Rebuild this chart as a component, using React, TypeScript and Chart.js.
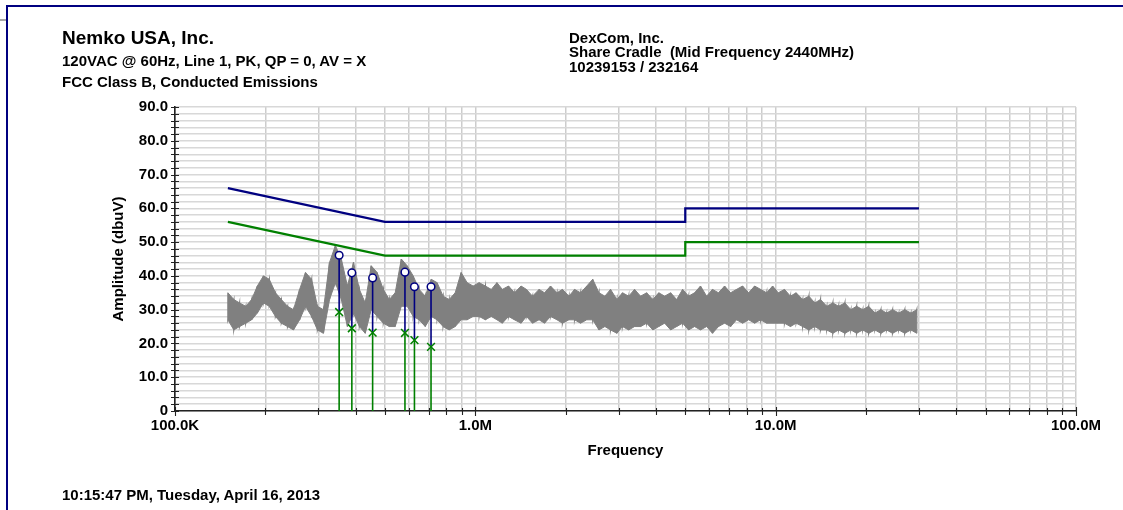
import React, { useEffect, useRef } from "react";
import { Chart, registerables } from "chart.js";

Chart.register(...registerables);

// ---------- data ----------
const headerLeftTitle = "Nemko USA, Inc.";
const headerLeftLines = ["120VAC @ 60Hz, Line 1, PK, QP = 0, AV = X", "FCC Class B, Conducted Emissions"];
const headerRightLines = ["DexCom, Inc.", "Share Cradle  (Mid Frequency 2440MHz)", "10239153 / 232164"];
const footerText = "10:15:47 PM, Tuesday, April 16, 2013";
const yAxisTitle = "Amplitude (dbuV)";
const xAxisTitle = "Frequency";

// x axis (MHz)
const xTickValues = [
  0.1, 0.2, 0.3, 0.4, 0.5, 0.6, 0.7, 0.8, 0.9,
  1, 2, 3, 4, 5, 6, 7, 8, 9,
  10, 20, 30, 40, 50, 60, 70, 80, 90,
  100,
];
const xDecadeValues = [0.1, 1, 10, 100];
const xDecadeLabels = ["100.0K", "1.0M", "10.0M", "100.0M"];

// limit lines
const qpLimitFreq = [0.15, 0.5, 5, 5, 30];
const qpLimitValue = [66, 56, 56, 60, 60];
const avLimitFreq = [0.15, 0.5, 5, 5, 30];
const avLimitValue = [56, 46, 46, 50, 50];

// measured markers
const markerFreq = [0.352, 0.388, 0.455, 0.583, 0.627, 0.712];
const qpValues = [46.1, 40.9, 39.4, 41.1, 36.8, 36.8];
const avValues = [29.3, 24.5, 23.2, 23.1, 21.0, 19.0];

// peak trace (upper / lower swing at each sweep frequency, MHz)
const traceFreqMHz = [
  0.150, 0.157, 0.164, 0.172, 0.180, 0.188, 0.197, 0.206, 0.216, 0.226,
  0.237, 0.248, 0.260, 0.272, 0.285, 0.298, 0.312, 0.327, 0.342, 0.358,
  0.375, 0.393, 0.411, 0.430, 0.450, 0.471, 0.494, 0.517, 0.541, 0.567,
  0.593, 0.621, 0.650, 0.681, 0.713, 0.746, 0.781, 0.818, 0.857, 0.897,
  0.939, 0.983,
  1.03, 1.08, 1.13, 1.18, 1.23, 1.29, 1.35, 1.42, 1.48, 1.55,
  1.63, 1.70, 1.78, 1.87, 1.95, 2.05, 2.14, 2.24, 2.35, 2.46,
  2.58, 2.70, 2.82, 2.96, 3.09, 3.24, 3.39, 3.55, 3.72, 3.90,
  4.08, 4.27, 4.47, 4.68, 4.90, 5.13, 5.37, 5.62, 5.89, 6.16,
  6.45, 6.76, 7.08, 7.41, 7.76, 8.13, 8.51, 8.91, 9.33, 9.77,
  10.2, 10.7, 11.2, 11.7, 12.3, 12.9, 13.5, 14.1, 14.8, 15.5,
  16.2, 17.0, 17.8, 18.6, 19.5, 20.4, 21.4, 22.4, 23.4, 24.5,
  25.7, 26.9, 28.2, 29.5,
];
const traceHigh = [
  35, 33, 32, 31, 33, 37, 40, 39, 35, 33,
  31, 30, 36, 41, 39, 31, 30, 44, 49, 45,
  37, 44, 36, 32, 43, 41, 36, 33, 35, 45,
  43, 40, 36, 34, 39, 38, 34, 33, 35, 41,
  38, 37,
  38, 37, 36, 38, 36, 37, 35, 37, 36, 34,
  36, 35, 37, 35, 36, 34, 36, 35, 37, 39,
  35, 34, 36, 33, 35, 34, 36, 34, 35, 33,
  35, 34, 35, 33, 36, 34, 35, 37, 34, 36,
  35, 37, 35, 36, 37, 35, 37, 36, 35, 37,
  35, 36, 34, 35, 33, 34, 32, 33, 31, 32,
  31, 32, 30, 31, 30, 31, 29, 30, 29, 30,
  29, 30, 29, 30,
];
const traceLow = [
  27, 24, 25, 26, 27, 29, 32, 31, 28, 26,
  25, 24, 27, 31, 28, 24, 23, 33, 38, 33,
  25, 29, 25, 23, 30, 28, 26, 25, 25, 31,
  31, 28, 27, 25, 28, 27, 25, 24, 25, 27,
  27, 28,
  28, 27, 28, 27, 26, 28, 27, 26, 28, 26,
  27, 26, 28, 27, 26, 27, 27, 26, 27, 27,
  24, 25, 24, 23, 25, 24, 25, 25, 26, 24,
  25, 26, 24, 25, 26, 24, 25, 24, 25, 23,
  25, 26, 25, 27, 26, 27, 26, 27, 26, 26,
  26, 26, 25, 26, 25, 24, 25, 24, 24, 23,
  24, 23, 24, 23, 24, 23, 24, 23, 24, 23,
  24, 23, 24, 23,
];

// ---------- styles ----------
const FONT = "'Liberation Sans', Arial, Helvetica, sans-serif";
const NAVY = "#000080";
const GREEN = "#008000";
const GRAY = "#808080";

const tickMarksPlugin = {
  id: "crossTicks",
  afterDraw(chart: any) {
    const { ctx, chartArea, scales } = chart;
    const xs = scales.x;
    const ys = scales.y;
    ctx.save();
    ctx.strokeStyle = "#222";
    ctx.lineWidth = 1.1;
    ctx.beginPath();
    ys.ticks.forEach((t: any) => {
      const py = Math.round(ys.getPixelForValue(t.value)) + 0.5;
      ctx.moveTo(chartArea.left - 4, py);
      ctx.lineTo(chartArea.left + 4, py);
    });
    xs.ticks.forEach((t: any) => {
      const px = Math.round(xs.getPixelForValue(t.value)) + 0.5;
      const major = xDecadeValues.some((d) => Math.abs(d - t.value) < 1e-9);
      ctx.moveTo(px, chartArea.bottom - (major ? 4 : 3));
      ctx.lineTo(px, chartArea.bottom + (major ? 5 : 4));
    });
    ctx.stroke();
    ctx.restore();
  },
};

export default function App() {
  const canvasRef = useRef<HTMLCanvasElement | null>(null);

  useEffect(() => {
    if (!canvasRef.current) return;

    const highPts = traceFreqMHz.map((f, i) => ({ x: f, y: traceHigh[i] }));
    const lowPts = traceFreqMHz.map((f, i) => ({ x: f, y: traceLow[i] }));
    const zigzag: { x: number; y: number }[] = [];
    traceFreqMHz.forEach((f, i) => {
      zigzag.push({ x: f, y: traceHigh[i] });
      zigzag.push({ x: f, y: traceLow[i] });
    });
    const qpLimit = qpLimitFreq.map((f, i) => ({ x: f, y: qpLimitValue[i] }));
    const avLimit = avLimitFreq.map((f, i) => ({ x: f, y: avLimitValue[i] }));
    const qpPts = markerFreq.map((f, i) => ({ x: f, y: qpValues[i] }));
    const avPts = markerFreq.map((f, i) => ({ x: f, y: avValues[i] }));
    const blueStems: any[] = [];
    const greenStems: any[] = [];
    markerFreq.forEach((f, i) => {
      blueStems.push({ x: f, y: qpValues[i] }, { x: f, y: avValues[i] }, { x: f, y: null });
      greenStems.push({ x: f, y: avValues[i] }, { x: f, y: 0 }, { x: f, y: null });
    });

    const tickFont = { family: FONT, size: 15, weight: "bold" as const, lineHeight: 1.2 };

    const chart = new Chart(canvasRef.current, {
      type: "line",
      data: {
        datasets: [
          {
            label: "Peak trace upper",
            data: highPts,
            borderColor: GRAY,
            borderWidth: 1,
            pointRadius: 0,
            fill: 1,
            backgroundColor: GRAY,
            order: 12,
          },
          {
            label: "Peak trace lower",
            data: lowPts,
            borderColor: GRAY,
            borderWidth: 1,
            pointRadius: 0,
            fill: false,
            order: 11,
          },
          {
            label: "Peak trace",
            data: zigzag,
            borderColor: GRAY,
            borderWidth: 1.3,
            pointRadius: 0,
            fill: false,
            order: 10,
          },
          {
            label: "QP limit",
            data: qpLimit,
            borderColor: NAVY,
            borderWidth: 2.2,
            pointRadius: 0,
            order: 5,
          },
          {
            label: "AV limit",
            data: avLimit,
            borderColor: GREEN,
            borderWidth: 2.2,
            pointRadius: 0,
            order: 5,
          },
          {
            label: "AV stems",
            data: greenStems,
            borderColor: GREEN,
            borderWidth: 1.6,
            pointRadius: 0,
            spanGaps: false,
            order: 4,
          },
          {
            label: "QP stems",
            data: blueStems,
            borderColor: NAVY,
            borderWidth: 1.6,
            pointRadius: 0,
            spanGaps: false,
            order: 3,
          },
          {
            label: "AV",
            data: avPts,
            showLine: false,
            pointStyle: "crossRot",
            pointRadius: 5.5,
            borderColor: GREEN,
            backgroundColor: GREEN,
            pointBorderWidth: 1.5,
            order: 2,
          },
          {
            label: "QP",
            data: qpPts,
            showLine: false,
            pointStyle: "circle",
            pointRadius: 3.8,
            borderColor: NAVY,
            backgroundColor: "#ffffff",
            pointBorderWidth: 1.5,
            order: 1,
          },
        ],
      },
      options: {
        responsive: false,
        animation: false,
        devicePixelRatio: 1,
        events: [],
        layout: { padding: { left: 100, right: 47, top: 107, bottom: 39 } },
        plugins: {
          legend: { display: false },
          tooltip: { enabled: false },
          title: { display: false },
        },
        scales: {
          x: {
            type: "logarithmic",
            min: 0.1,
            max: 100,
            afterBuildTicks: (scale: any) => {
              scale.ticks = xTickValues.map((v) => ({ value: v }));
            },
            afterFit: (scale: any) => {
              scale.height = 60;
            },
            ticks: {
              autoSkip: false,
              maxRotation: 0,
              minRotation: 0,
              padding: 6,
              color: "#000",
              font: tickFont,
              callback: (value: any) => {
                const idx = xDecadeValues.findIndex((d) => Math.abs(d - Number(value)) < 1e-9);
                return idx >= 0 ? xDecadeLabels[idx] : "";
              },
            },
            grid: {
              drawTicks: false,
              color: "#cdcdcd",
              lineWidth: 1.5,
            },
            border: { display: true, color: "#222", width: 1.6 },
            title: {
              display: true,
              text: xAxisTitle,
              color: "#000",
              font: tickFont,
              padding: { top: 0, bottom: 11 },
            },
          },
          y: {
            type: "linear",
            min: 0,
            max: 90,
            afterFit: (scale: any) => {
              scale.width = 75;
            },
            ticks: {
              stepSize: 2,
              autoSkip: false,
              padding: 7,
              color: "#000",
              font: tickFont,
              callback: (value: any) => {
                const v = Number(value);
                if (v % 10 !== 0) return "";
                return v === 0 ? "0" : v.toFixed(1);
              },
            },
            grid: {
              drawTicks: false,
              color: "#d8d8d8",
              lineWidth: 1.5,
            },
            border: { display: true, color: "#222", width: 1.6 },
            title: {
              display: true,
              text: yAxisTitle,
              color: "#000",
              font: tickFont,
              padding: { top: 10, bottom: 0 },
            },
          },
        },
      },
      plugins: [tickMarksPlugin],
    });

    return () => chart.destroy();
  }, []);

  const textBase: React.CSSProperties = {
    position: "absolute",
    fontFamily: FONT,
    fontWeight: "bold",
    color: "#000",
    whiteSpace: "pre",
    margin: 0,
  };

  return (
    <div
      style={{
        position: "fixed",
        left: 0,
        top: 0,
        width: 1123,
        height: 510,
        background: "#fff",
        overflow: "hidden",
      }}
    >
      <canvas
        ref={canvasRef}
        width={1123}
        height={510}
        style={{ position: "absolute", left: 0, top: 0, width: 1123, height: 510 }}
      />
      <div
        style={{
          position: "absolute",
          left: 6,
          top: 5,
          width: 1200,
          height: 600,
          borderLeft: `2.5px solid ${NAVY}`,
          borderTop: `2.5px solid ${NAVY}`,
          boxSizing: "border-box",
          pointerEvents: "none",
        }}
      />
      <div style={{ position: "absolute", left: 0, top: 19, width: 6, height: 2, background: "#a8a8a8" }} />
      <div style={{ ...textBase, left: 62, top: 27, fontSize: 19, lineHeight: "22px" }}>{headerLeftTitle}</div>
      <div style={{ ...textBase, left: 62, top: 52, fontSize: 15, lineHeight: "17px" }}>{headerLeftLines[0]}</div>
      <div style={{ ...textBase, left: 62, top: 73, fontSize: 15, lineHeight: "17px" }}>{headerLeftLines[1]}</div>
      <div style={{ ...textBase, left: 569, top: 29, fontSize: 15, lineHeight: "17px" }}>{headerRightLines[0]}</div>
      <div style={{ ...textBase, left: 569, top: 43, fontSize: 15, lineHeight: "17px" }}>{headerRightLines[1]}</div>
      <div style={{ ...textBase, left: 569, top: 58, fontSize: 15, lineHeight: "17px" }}>{headerRightLines[2]}</div>
      <div style={{ ...textBase, left: 62, top: 486, fontSize: 15, lineHeight: "17px" }}>{footerText}</div>
    </div>
  );
}
